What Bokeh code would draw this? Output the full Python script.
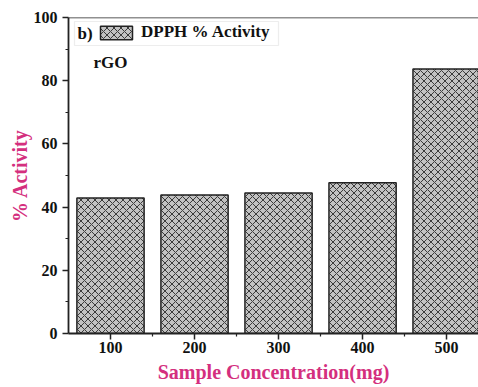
from bokeh.plotting import figure
from bokeh.models import (ColumnDataSource, FixedTicker, Legend, LegendItem,
                          Label, BoxAnnotation, Span)
from bokeh.embed import file_html
from bokeh.resources import INLINE

# ---- data ----
concentrations = [100, 200, 300, 400, 500]
activity = [42.9, 43.8, 44.5, 47.7, 83.7]
x_ticks = [100, 200, 300, 400, 500]
x_minor = [150, 250, 350, 450]
y_ticks = [0, 20, 40, 60, 80, 100]
y_minor = [10, 30, 50, 70, 90]

FONT = "Liberation Serif"
PINK = "#d42f7e"

src = ColumnDataSource(dict(x=concentrations, top=activity))

p = figure(width=478, height=387, output_backend="svg", toolbar_location=None,
           x_range=(50, 538), y_range=(0, 100),
           min_border_left=68, min_border_right=0, min_border_top=17,
           min_border_bottom=54)
p.outline_line_color = None
p.grid.visible = False
p.background_fill_color = "white"

bars = p.vbar(x="x", top="top", width=80, source=src,
              fill_color="#c2c2c2", line_color="#222222", line_width=1.5,
              hatch_pattern="x", hatch_color="#3a3a3a", hatch_scale=7,
              hatch_weight=1)

# top border line
p.add_layout(Span(location=100, dimension="width", line_color="#222222",
                  line_width=1.5))

for ax in (p.xaxis[0], p.yaxis[0]):
    ax.axis_line_width = 1.8
    ax.axis_line_color = "#222222"
    ax.major_tick_line_color = "#222222"
    ax.minor_tick_line_color = "#222222"
    ax.major_tick_line_width = 1.5
    ax.minor_tick_line_width = 1.2
    ax.major_tick_in = 0
    ax.major_tick_out = 6
    ax.minor_tick_in = 0
    ax.minor_tick_out = 3
    ax.major_label_text_font = FONT
    ax.major_label_text_font_style = "bold"
    ax.major_label_text_font_size = "16px"
    ax.major_label_text_color = "#111111"
    ax.axis_label_text_font = FONT
    ax.axis_label_text_font_style = "bold"
    ax.axis_label_text_font_size = "20px"
    ax.axis_label_text_color = PINK

p.xaxis.ticker = FixedTicker(ticks=x_ticks, minor_ticks=x_minor)
p.yaxis.ticker = FixedTicker(ticks=y_ticks, minor_ticks=y_minor)
p.xaxis.axis_label = "Sample Concentration(mg)"
p.yaxis.axis_label = "% Activity"
p.xaxis.major_label_standoff = 2
p.yaxis.major_label_standoff = 5
p.xaxis.axis_label_standoff = 5
p.yaxis.axis_label_standoff = 0

# legend box
box = BoxAnnotation(left=6, right=210, top=312, bottom=288,
                    left_units="screen", right_units="screen",
                    top_units="screen", bottom_units="screen",
                    fill_color="white", fill_alpha=1,
                    line_color="#c4c4c4", line_width=1.2)
p.add_layout(box)

p.add_layout(Label(x=9, y=300, x_units="screen", y_units="screen", text="b)",
                   text_font=FONT, text_font_style="bold",
                   text_font_size="17px", text_baseline="middle",
                   text_color="#111111"))

legend = Legend(items=[LegendItem(label="DPPH % Activity", renderers=[bars])],
                location=(28, 291), border_line_color=None,
                background_fill_alpha=0, padding=0, margin=0,
                glyph_width=40, glyph_height=17, label_height=17,
                label_standoff=5, label_text_font=FONT,
                label_text_font_style="bold", label_text_font_size="17px",
                label_text_color="#111111")
p.add_layout(legend, "center")

p.add_layout(Label(x=25, y=271, x_units="screen", y_units="screen", text="rGO",
                   text_font=FONT, text_font_style="bold",
                   text_font_size="17px", text_baseline="middle",
                   text_color="#111111"))

open("out.html", "w").write(file_html(p, INLINE))
